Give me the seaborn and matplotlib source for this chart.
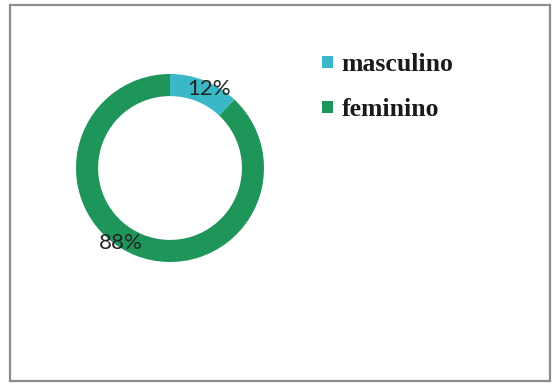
import matplotlib
matplotlib.use("Agg")
import matplotlib.pyplot as plt
import seaborn as sns
from matplotlib.patches import Rectangle

sns.set_theme(style="white")
plt.rcParams['font.family'] = ['Lato', 'DejaVu Sans']

categories = ["masculino", "feminino"]
values = [12, 88]
labels = ["12%", "88%"]
colors = ["#3BB8C8", "#1E965A"]

W, H = 552, 383
fig = plt.figure(figsize=(W / 100, H / 100), dpi=100)
fig.patch.set_facecolor("white")

# frame
fig.add_artist(Rectangle((10 / W, 2 / H), 540 / W, 376 / H, transform=fig.transFigure,
                         fill=False, edgecolor="#8c8c8c", linewidth=1.6))

cx, cy, r = 170, 168, 94
ax = fig.add_axes([(cx - r) / W, 1 - (cy + r) / H, 2 * r / W, 2 * r / H])
wedges, _ = ax.pie(values, colors=colors, startangle=90, counterclock=False,
                   radius=1.0, wedgeprops=dict(width=0.235, linewidth=0))
ax.set_xlim(-1, 1)
ax.set_ylim(-1, 1)
ax.set_aspect("equal")
ax.axis("off")

label_pos = [(0.42, 0.84), (-0.52, -0.80)]
for lab, pos in zip(labels, label_pos):
    ax.text(pos[0], pos[1], lab, ha="center", va="center", fontsize=16,
            color="#222222", family=['Lato', 'DejaVu Sans'])

leg = fig.legend(wedges, categories, loc="upper left",
                 bbox_to_anchor=(312 / W, 1 - 43 / H), frameon=False,
                 prop=dict(family=['Liberation Serif'], weight="bold", size=18.5),
                 handlelength=0.4, handleheight=0.38, handletextpad=0.35,
                 labelspacing=0.85, borderaxespad=0)
for t in leg.get_texts():
    t.set_color("#1a1a1a")

fig.savefig("out.png", dpi=100, facecolor="white")
